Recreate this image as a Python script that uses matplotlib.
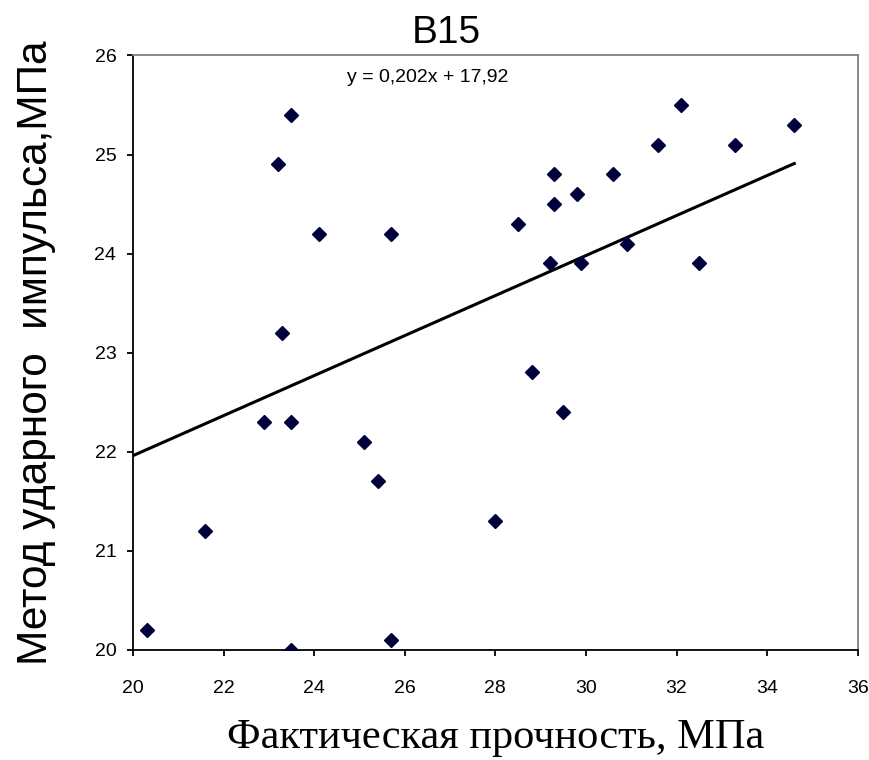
import matplotlib
matplotlib.use("agg")
from matplotlib import pyplot as plt
import numpy as np

# fact strength (MPa) vs impact pulse method (MPa), class B15
fact = [23.5, 23.2, 24.1, 25.7, 23.3,
        32.1, 34.6, 31.6, 33.3, 29.3, 30.6, 29.8, 29.3, 28.5, 29.2, 29.9, 30.9, 32.5,
        22.9, 23.5, 25.1, 25.4, 21.6, 28.0, 20.3, 23.5, 25.7,
        28.8, 29.5]
impulse = [25.4, 24.9, 24.2, 24.2, 23.2,
           25.5, 25.3, 25.1, 25.1, 24.8, 24.8, 24.6, 24.5, 24.3, 23.9, 23.9, 24.1, 23.9,
           22.3, 22.3, 22.1, 21.7, 21.2, 21.3, 20.2, 20.0, 20.1,
           22.8, 22.4]

slope = 0.202
intercept = 17.92
eq_label = "y = 0,202x + 17,92"

xticks = list(range(20, 37, 2))
yticks = list(range(20, 27))

fig = plt.figure(figsize=(8.69, 7.6), dpi=100)
ax = fig.add_axes([0.153, 0.145, 0.834, 0.782])

ax.plot(fact, impulse, linestyle="none", marker="D", markersize=7,
        color="#00003c", zorder=3)

# trend line from the equation, over the range of the data
xs = np.array([min(fact) - 0.3, max(fact)])
ax.plot(xs, slope * xs + intercept, color="black", linewidth=2.2, zorder=2)

ax.text(26.5, 25.73, eq_label, ha="center", va="baseline",
        fontsize=14, family="Liberation Sans")

ax.set_xlim(20, 36)
ax.set_ylim(20, 26)
ax.set_xticks(xticks)
ax.set_yticks(yticks)
ax.tick_params(direction="out", length=4, width=1.3, labelsize=14)
ax.tick_params(axis="x", pad=18)
ax.tick_params(axis="y", pad=8)
for lab in ax.get_xticklabels() + ax.get_yticklabels():
    lab.set_family("Liberation Sans")

for side in ["left", "bottom"]:
    ax.spines[side].set_linewidth(1.3)
    ax.spines[side].set_color("black")
for side in ["top", "right"]:
    ax.spines[side].set_linewidth(1.3)
    ax.spines[side].set_color("#808080")

ax.set_ylabel("Метод ударного  импульса,МПа", fontsize=30.5,
              family="Liberation Sans", labelpad=28)
ax.set_xlabel("Фактическая прочность, МПа", fontsize=30.5,
              family="Liberation Serif", labelpad=15)

fig.text(0.514, 1 - 43 / 760, "В15", ha="center", va="baseline",
         fontsize=28, family="Liberation Sans")

plt.savefig("out.png")
